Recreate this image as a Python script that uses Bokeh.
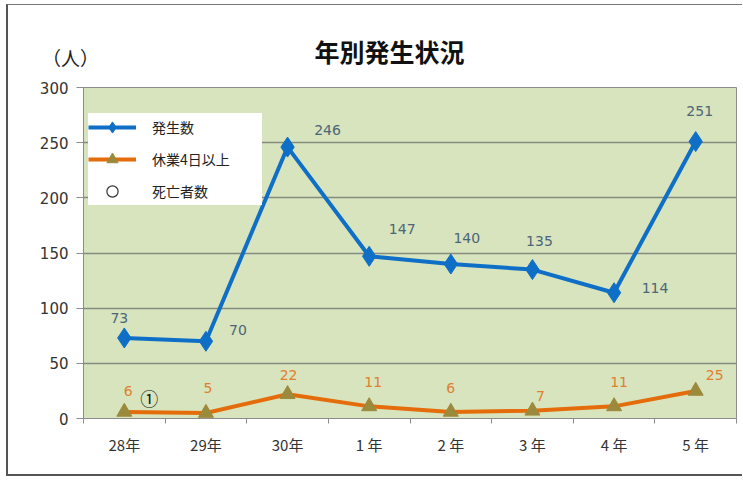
from bokeh.plotting import figure
from bokeh.models import (ColumnDataSource, LabelSet, Label, Legend, LegendItem,
                          FixedTicker, Range1d)
from bokeh.core.properties import value
from bokeh.embed import file_html
from bokeh.resources import INLINE

# ---- data ----
years = ["28年", "29年", "30年", "1 年", "2 年", "3 年", "4 年", "5 年"]
occurrences = [73, 70, 246, 147, 140, 135, 114, 251]
absence4 = [6, 5, 22, 11, 6, 7, 11, 25]
deaths = [1, 0, 0, 0, 0, 0, 0, 0]
yticks = [0, 50, 100, 150, 200, 250, 300]
title_text = "年別発生状況"
unit_text = "（人）"

# ---- label offsets (layout only) ----
occ_dx = [-5, 32, 40, 33, 16, 7, 41, 4]
occ_dy = [20, 11, 17, 27, 26, 29, 5, 31]
abs_dx = [4, 2, 1, 4, 0, 8, 5, 19]
abs_dy = [21, 25, 19, 24, 24, 15, 24, 16]

JP = "Noto Sans CJK JP"
NUM = "DejaVu Sans"

xs = list(range(len(years)))

p = figure(width=736, height=472, output_backend="svg", toolbar_location=None,
           x_range=Range1d(-0.5, len(years) - 0.5), y_range=Range1d(0, 300),
           min_border_left=75, min_border_right=8, min_border_top=82,
           min_border_bottom=59)
p.margin = (4, 0, 0, 6)
p.styles = {"border-left": "2px solid #555555", "border-top": "1px solid #777777",
            "border-bottom": "2px solid #555555"}
p.background_fill_color = "#d7e4bd"
p.border_fill_color = "white"
p.outline_line_color = "#8c8c8c"
p.outline_line_width = 1

# title and unit live in side panels so they are not clipped to the plot frame
p.add_layout(Label(x=379, y=44, x_units="canvas", y_units="canvas",
                   text=title_text, text_align="center", text_baseline="middle",
                   text_font=JP, text_font_size="25px", text_font_style="bold",
                   text_color="#111111"), "above")
p.add_layout(Label(x=60, y=51, x_units="canvas", y_units="canvas",
                   text=unit_text, text_align="center", text_baseline="middle",
                   text_font=JP, text_font_size="19px", text_color="#222222"),
             "above")

# grid
p.xgrid.grid_line_color = None
p.ygrid.ticker = FixedTicker(ticks=yticks)
p.ygrid.grid_line_color = "#858a80"
p.ygrid.grid_line_width = 1.5

# y axis
p.yaxis.ticker = FixedTicker(ticks=yticks)
p.yaxis.axis_line_color = "#8c8c8c"
p.yaxis.major_tick_line_color = "#8c8c8c"
p.yaxis.major_tick_out = 7
p.yaxis.major_tick_in = 0
p.yaxis.minor_tick_line_color = None
p.yaxis.major_label_text_font = NUM
p.yaxis.major_label_text_font_size = "15px"
p.yaxis.major_label_text_color = "#333333"
p.yaxis.major_label_standoff = 8

# x axis
p.xaxis.ticker = FixedTicker(ticks=xs, minor_ticks=[i - 0.5 for i in range(len(years) + 1)])
p.xaxis.major_label_overrides = {i: y for i, y in enumerate(years)}
p.xaxis.major_tick_line_color = None
p.xaxis.minor_tick_line_color = "#8c8c8c"
p.xaxis.minor_tick_out = 5
p.xaxis.minor_tick_in = 0
p.xaxis.axis_line_color = "#8c8c8c"
p.xaxis.major_label_text_font = JP
p.xaxis.major_label_text_font_size = "15px"
p.xaxis.major_label_text_color = "#333333"
p.xaxis.major_label_standoff = 9

src = ColumnDataSource(dict(x=xs, occ=occurrences, ab=absence4,
                            occ_t=[str(v) for v in occurrences],
                            ab_t=[str(v) for v in absence4],
                            occ_dx=occ_dx, occ_dy=occ_dy,
                            abs_dx=abs_dx, abs_dy=abs_dy))

BLUE = "#0f6fc6"
ORANGE = "#e46c0a"
OLIVE = "#9c8a3c"

l1 = p.line("x", "occ", source=src, line_color=BLUE, line_width=4)
m1 = p.scatter("x", "occ", source=src, marker="diamond", size=20,
               fill_color=BLUE, line_color=BLUE)
l2 = p.line("x", "ab", source=src, line_color=ORANGE, line_width=4)
m2 = p.scatter("x", "ab", source=src, marker="triangle", size=15,
               fill_color=OLIVE, line_color=OLIVE)
m3 = p.scatter(x=[-10], y=[-10], marker="circle", size=11, fill_color="white",
               line_color="#333333", line_width=1.2)

p.add_layout(LabelSet(x="x", y="occ", text="occ_t", source=src,
                      x_offset="occ_dx", y_offset="occ_dy",
                      text_align="center", text_baseline="middle",
                      text_font=value(NUM), text_font_size=value("14px"),
                      text_color="#4d6578"))
p.add_layout(LabelSet(x="x", y="ab", text="ab_t", source=src,
                      x_offset="abs_dx", y_offset="abs_dy",
                      text_align="center", text_baseline="middle",
                      text_font=value(NUM), text_font_size=value("14px"),
                      text_color="#e07f30"))

circled = {1: "①", 2: "②", 3: "③"}
for i, d in enumerate(deaths):
    if d > 0:
        p.add_layout(Label(x=xs[i], y=absence4[i], text=circled.get(d, str(d)),
                           x_offset=25, y_offset=14, text_align="center",
                           text_baseline="middle", text_font=JP,
                           text_font_size="18px", text_color="#111111"))

legend = Legend(items=[LegendItem(label="発生数", renderers=[l1, m1]),
                       LegendItem(label="休業4日以上", renderers=[l2, m2]),
                       LegendItem(label="死亡者数", renderers=[m3])],
                location=(5, 213), background_fill_color="white",
                background_fill_alpha=1, border_line_color=None,
                label_text_font=JP, label_text_font_size="14px",
                label_text_color="#222222", glyph_width=48, glyph_height=28,
                label_width=110, spacing=4, padding=6, label_standoff=16)
p.add_layout(legend)

open("out.html", "w").write(file_html(p, INLINE))
